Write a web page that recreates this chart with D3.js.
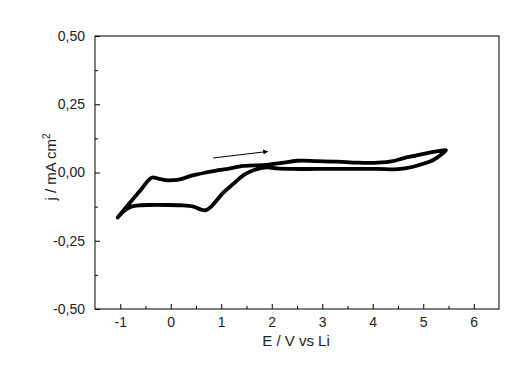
<!DOCTYPE html>
<html>
<head>
<meta charset="utf-8">
<script src="https://cdn.jsdelivr.net/npm/d3@7"></script>
<style>
    body { margin: 0; background: #fff; }
    text { font-family: Arial, "Liberation Sans", sans-serif; fill: #222; }
</style>
</head>
<body>
<script>
// cyclic voltammogram (V vs Li, mA cm-2)
var potential = [-1.05, -0.85, -0.6, -0.38, -0.25, -0.1, 0.05, 0.2, 0.35, 0.5, 0.7, 0.9, 1.1, 1.44, 1.9, 2.2, 2.5, 2.9, 3.3, 3.7, 4.1, 4.4, 4.6, 4.85, 5.1, 5.3, 5.45,
    5.35, 5.2, 5.0, 4.8, 4.5, 4.1, 3.5, 2.9, 2.4, 2.1, 1.9, 1.65, 1.45, 1.25, 1.05, 0.92, 0.8, 0.7, 0.6, 0.45, 0.2, -0.1, -0.4, -0.6, -0.78, -0.92, -1.05];
var current = [-0.165, -0.12, -0.065, -0.019, -0.022, -0.028, -0.028, -0.024, -0.015, -0.008, 0.0, 0.007, 0.012, 0.024, 0.028, 0.035, 0.043, 0.042, 0.04, 0.036, 0.036, 0.042, 0.052, 0.062, 0.072, 0.078, 0.082,
    0.065, 0.046, 0.032, 0.021, 0.012, 0.013, 0.013, 0.013, 0.013, 0.015, 0.019, 0.009, -0.009, -0.04, -0.072, -0.1, -0.125, -0.138, -0.136, -0.125, -0.12, -0.119, -0.119, -0.12, -0.125, -0.14, -0.165];

var xTicks = [-1, 0, 1, 2, 3, 4, 5, 6];
var yTicks = [-0.5, -0.25, 0, 0.25, 0.5];
// scan direction arrow (start / end, in data units)
var arrowV = [0.84, 1.92];
var arrowJ = [0.053, 0.077];

var width = 525, height = 384;
var margin = {top: 36, right: 26, bottom: 75, left: 95};

var svg = d3.select("body").append("svg")
    .attr("width", width)
    .attr("height", height);

var x = d3.scaleLinear().domain([-1.5, 6.5]).range([margin.left, width - margin.right]);
var y = d3.scaleLinear().domain([-0.5, 0.5]).range([height - margin.bottom, margin.top]);

// plain hyphen and decimal comma, as on the original
var fmtY = function (d) { return d3.format(".2f")(d).replace("\u2212", "-").replace(".", ","); };
var fmtX = function (d) { return d3.format("d")(d).replace("\u2212", "-"); };

// frame
svg.append("rect")
    .attr("x", x(-1.5))
    .attr("y", y(0.5))
    .attr("width", x(6.5) - x(-1.5))
    .attr("height", y(-0.5) - y(0.5))
    .style("fill", "none")
    .style("stroke", "black")
    .style("stroke-width", 1);

// x axis, ticks pointing inward
svg.append("g")
    .attr("transform", "translate(0," + y(-0.5) + ")")
    .call(d3.axisBottom(x).tickValues(xTicks).tickSizeInner(-5).tickSizeOuter(0).tickPadding(8).tickFormat(fmtX));
svg.append("g")
    .attr("transform", "translate(0," + y(-0.5) + ")")
    .call(d3.axisBottom(x).tickValues(d3.range(-0.5, 6.5, 1)).tickSizeInner(-3).tickSizeOuter(0).tickFormat(""));

svg.append("g")
    .attr("transform", "translate(" + x(-1.5) + ",0)")
    .call(d3.axisLeft(y).tickValues(yTicks).tickSizeInner(-5).tickSizeOuter(0).tickPadding(10).tickFormat(fmtY));
svg.append("g")
    .attr("transform", "translate(" + x(-1.5) + ",0)")
    .call(d3.axisLeft(y).tickValues([-0.375, -0.125, 0.125, 0.375]).tickSizeInner(-3).tickSizeOuter(0).tickFormat(""));

svg.selectAll(".domain").remove();
svg.selectAll(".tick line").style("stroke", "black");
svg.selectAll(".tick text").style("font-size", "14px").style("fill", "#222");

// axis titles
svg.append("text")
    .attr("x", 296)
    .attr("y", 346)
    .attr("text-anchor", "middle")
    .style("font-size", "15px")
    .text("E / V vs Li");

var ylab = svg.append("text")
    .attr("transform", "translate(56,167) rotate(-90)")
    .attr("text-anchor", "middle")
    .style("font-size", "15px");
ylab.append("tspan").text("j / mA cm");
ylab.append("tspan").attr("dy", -6).style("font-size", "10px").text("2");

// the loop
var pts = potential.map(function (v, i) { return [v, current[i]]; });
var line = d3.line()
    .x(function (d) { return x(d[0]); })
    .y(function (d) { return y(d[1]); })
    .curve(d3.curveCatmullRom.alpha(0.5));

svg.append("path")
    .attr("d", line(pts))
    .style("fill", "none")
    .style("stroke", "black")
    .style("stroke-width", 3.8)
    .style("stroke-linejoin", "round")
    .style("stroke-linecap", "round");

// arrow
svg.append("defs").append("marker")
    .attr("id", "head")
    .attr("viewBox", "0 0 10 10")
    .attr("refX", 9)
    .attr("refY", 5)
    .attr("markerWidth", 7)
    .attr("markerHeight", 5)
    .attr("orient", "auto")
    .append("path")
    .attr("d", "M0,0L10,5L0,10z")
    .style("fill", "black");

svg.append("line")
    .attr("x1", x(arrowV[0]))
    .attr("y1", y(arrowJ[0]))
    .attr("x2", x(arrowV[1]))
    .attr("y2", y(arrowJ[1]))
    .style("stroke", "black")
    .style("stroke-width", 1)
    .attr("marker-end", "url(#head)");
</script>
</body>
</html>
